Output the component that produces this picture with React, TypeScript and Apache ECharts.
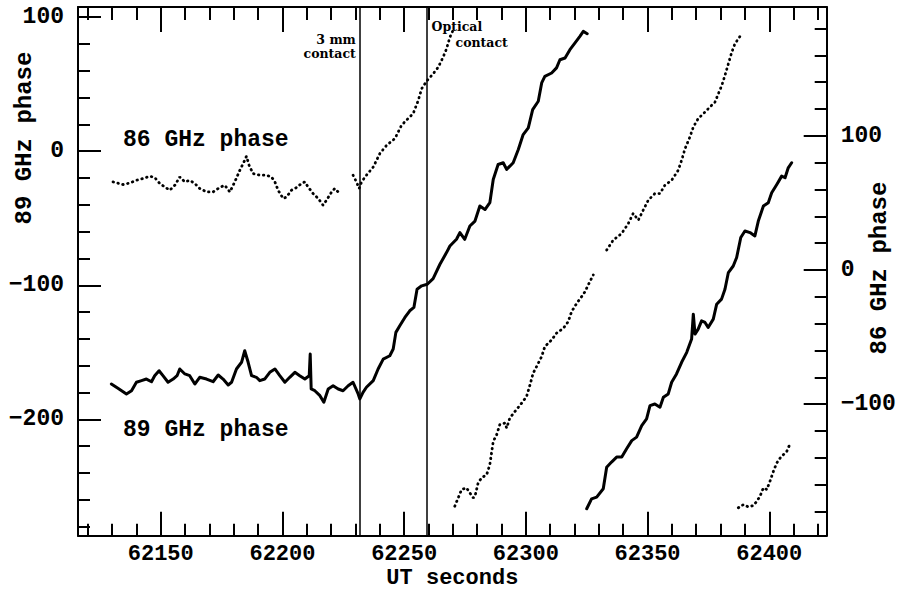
import React, { useEffect, useRef } from "react";
import * as echarts from "echarts";

// ---- axis extents & ticks ----
const X_MIN = 62116;
const X_MAX = 62423.6;
const L_MIN = -286.7;
const L_MAX = 107.5;
const R_MIN = -198.1;
const R_MAX = 196.1;

const xMajorTicks = [62150, 62200, 62250, 62300, 62350, 62400];
const xMinorTicks = [
  62120, 62130, 62140, 62160, 62170, 62180, 62190, 62210, 62220, 62230, 62240,
  62260, 62270, 62280, 62290, 62310, 62320, 62330, 62340, 62360, 62370, 62380,
  62390, 62410, 62420,
];
const leftMajorTicks = [-200, -100, 0, 100];
const leftMinorTicks = [
  -280, -260, -240, -220, -180, -160, -140, -120, -80, -60, -40, -20, 20, 40, 60, 80,
];
const rightMajorTicks = [-100, 0, 100];
const rightMinorTicks = [
  -180, -160, -140, -120, -80, -60, -40, -20, 20, 40, 60, 80, 120, 140, 160, 180,
];

// event times (UT seconds)
const contact3mm = 62231.8;
const contactOptical = 62259.2;

// ---- 89 GHz phase (left axis), two wraps ----
const phase89A = [
  [62129.7, -173.6], [62132.4, -176.8], [62135.9, -181.0], [62138.0, -178.6], [62140.0, -172.3],
  [62142.1, -171.1], [62144.1, -169.9], [62146.2, -171.9], [62147.5, -167.4], [62149.3, -163.7],
  [62150.9, -167.4], [62153.0, -172.3], [62155.1, -169.9], [62156.7, -167.4], [62157.8, -162.4],
  [62159.9, -166.1], [62161.9, -167.4], [62164.0, -173.6], [62166.0, -168.6], [62168.8, -169.9],
  [62171.5, -171.9], [62173.6, -166.9], [62175.6, -169.9], [62177.7, -174.3], [62179.1, -172.3],
  [62181.1, -162.4], [62183.2, -157.4], [62184.5, -148.8], [62185.9, -157.4], [62187.3, -167.4],
  [62189.3, -168.6], [62190.7, -171.1], [62192.7, -169.9], [62194.8, -164.9], [62196.9, -162.4],
  [62198.9, -167.4], [62201.0, -172.3], [62203.0, -168.6], [62205.1, -164.9], [62207.1, -167.4],
  [62209.2, -169.9], [62211.0, -167.4], [62211.4, -151.3], [62211.8, -177.3], [62213.3, -178.6],
  [62215.4, -182.3], [62217.0, -187.2], [62218.8, -177.3], [62220.8, -174.9], [62222.9, -177.3],
  [62224.9, -178.6], [62227.0, -174.9], [62229.0, -172.3], [62231.1, -181.0], [62231.8, -184.7],
  [62233.1, -179.8], [62234.5, -176.0], [62237.3, -171.1], [62239.3, -162.4], [62241.4, -155.0],
  [62244.1, -152.5], [62245.5, -147.5], [62246.6, -135.1], [62248.2, -130.2], [62250.3, -124.0],
  [62252.3, -119.0], [62254.0, -116.5], [62255.3, -102.9], [62257.2, -100.4], [62259.5, -99.2],
  [62261.9, -95.0], [62264.7, -84.3], [62267.4, -75.6], [62268.8, -70.7], [62271.5, -65.7],
  [62272.9, -60.7], [62274.9, -65.7], [62277.0, -55.8], [62279.1, -52.1], [62281.1, -40.9],
  [62283.2, -43.5], [62285.2, -38.4], [62286.6, -21.1], [62288.6, -9.9], [62290.7, -8.6],
  [62292.1, -13.6], [62294.8, -8.6], [62296.9, 1.3], [62298.9, 12.4], [62301.0, 17.4],
  [62302.8, 31.0], [62305.1, 37.2], [62306.5, 50.9], [62307.8, 55.8], [62310.6, 58.3],
  [62312.6, 62.1], [62314.0, 68.2], [62316.1, 69.5], [62318.1, 75.7], [62320.2, 80.7],
  [62322.2, 85.6], [62323.6, 89.3], [62325.2, 87.6],
];
const phase89B = [
  [62325.0, -266.6], [62327.0, -259.2], [62329.1, -257.9], [62331.8, -251.7], [62333.2, -235.6],
  [62335.2, -231.8], [62337.3, -228.1], [62339.4, -228.1], [62341.4, -221.9], [62343.5, -215.8],
  [62345.5, -213.2], [62347.6, -204.6], [62349.6, -199.6], [62351.0, -189.7], [62353.0, -188.5],
  [62355.1, -190.9], [62356.5, -183.5], [62358.5, -181.0], [62359.9, -172.3], [62361.9, -166.1],
  [62364.0, -157.4], [62366.1, -150.0], [62368.1, -140.1], [62368.8, -121.5], [62369.5, -136.4],
  [62370.8, -132.7], [62372.2, -126.5], [62373.6, -127.7], [62374.9, -131.4], [62377.0, -125.2],
  [62378.4, -114.1], [62380.4, -110.3], [62381.8, -102.9], [62383.2, -90.5], [62385.2, -85.6],
  [62386.6, -79.3], [62388.3, -64.4], [62390.0, -59.5], [62392.1, -60.7], [62394.1, -63.2],
  [62395.5, -52.1], [62397.6, -40.9], [62399.6, -38.4], [62401.0, -31.0], [62403.1, -24.8],
  [62405.1, -18.6], [62406.5, -19.8], [62407.8, -12.4], [62409.2, -8.6],
];

// ---- 86 GHz phase (right axis), segments ----
const phase86A = [
  [62130.4, 65.7], [62134.5, 63.7], [62137.3, 64.9], [62140.0, 66.9], [62142.7, 68.2],
  [62145.5, 69.9], [62147.5, 69.0], [62149.6, 64.5], [62151.6, 62.0], [62153.7, 59.5],
  [62155.8, 63.2], [62157.8, 69.4], [62159.9, 65.7], [62161.9, 66.9], [62164.0, 64.5],
  [62166.0, 60.8], [62168.8, 58.2], [62171.5, 58.2], [62174.2, 61.5], [62176.3, 63.2],
  [62178.4, 58.2], [62180.4, 65.7], [62182.5, 74.4], [62184.5, 81.8], [62185.2, 84.8],
  [62186.3, 78.1], [62187.9, 71.9], [62190.7, 70.7], [62193.4, 70.7], [62195.5, 69.4],
  [62196.9, 65.7], [62198.2, 59.5], [62200.3, 53.3], [62201.7, 54.5], [62203.7, 59.5],
  [62205.8, 61.5], [62207.8, 64.5], [62209.2, 65.7], [62210.5, 62.0], [62212.6, 57.0],
  [62214.7, 53.3], [62216.7, 48.3], [62218.1, 52.1], [62220.2, 58.2], [62221.5, 60.8],
  [62222.9, 58.2], [62224.3, 57.5],
];
const phase86B = [
  [62229.0, 70.7], [62230.4, 65.7], [62231.5, 60.8], [62232.5, 65.7], [62234.5, 70.7],
  [62237.3, 76.8], [62240.0, 86.8], [62242.8, 93.0], [62246.2, 98.0], [62248.9, 107.9],
  [62251.6, 112.9], [62253.7, 116.6], [62255.8, 126.5], [62257.2, 135.2], [62259.2, 140.8],
  [62261.9, 146.3], [62264.0, 151.2], [62266.0, 158.7], [62267.4, 164.9], [62268.8, 173.6],
  [62270.4, 180.0],
];
const phase86C = [
  [62270.8, -176.1], [62272.2, -169.9], [62273.6, -163.7], [62275.6, -162.4], [62277.0, -166.2],
  [62278.4, -169.9], [62279.1, -168.7], [62280.4, -158.7], [62281.8, -155.0], [62283.9, -152.6],
  [62285.2, -145.1], [62285.9, -136.4], [62286.6, -127.8], [62288.0, -122.8], [62289.3, -115.3],
  [62291.4, -114.1], [62292.1, -117.8], [62293.4, -110.4], [62295.5, -105.5], [62298.3, -99.2],
  [62300.3, -94.3], [62301.7, -85.6], [62303.0, -76.9], [62304.4, -72.0], [62306.5, -64.5],
  [62307.8, -57.1], [62310.6, -52.1], [62312.6, -47.1], [62315.4, -43.4], [62317.4, -38.5],
  [62318.8, -31.0], [62320.9, -24.8], [62322.9, -19.9], [62324.3, -16.2], [62325.6, -11.2],
  [62327.7, -3.7],
];
const phase86D = [
  [62333.2, 14.9], [62335.9, 22.3], [62339.4, 27.3], [62342.1, 34.7], [62344.1, 42.2],
  [62346.2, 37.2], [62348.2, 44.6], [62350.3, 52.1], [62353.0, 57.0], [62355.1, 57.0],
  [62357.1, 63.2], [62359.9, 66.9], [62362.6, 74.4], [62364.0, 81.8], [62365.4, 90.5],
  [62367.4, 99.2], [62368.8, 106.6], [62370.8, 112.9], [62373.6, 117.8], [62375.6, 121.5],
  [62377.7, 125.2], [62379.1, 131.5], [62380.5, 137.6], [62381.8, 145.1], [62383.2, 153.8],
  [62384.6, 162.4], [62385.9, 168.7], [62387.3, 172.4], [62388.7, 176.1],
];
const phase86E = [
  [62387.3, -177.3], [62389.4, -174.9], [62391.4, -176.6], [62393.5, -175.6], [62394.9, -172.4],
  [62396.2, -168.7], [62397.6, -162.4], [62399.0, -163.7], [62400.3, -157.5], [62401.7, -150.1],
  [62403.1, -143.8], [62404.5, -140.1], [62405.8, -137.7], [62407.2, -135.2], [62408.2, -131.0],
];

const MONO = "'Liberation Mono', 'DejaVu Sans Mono', monospace";
const SERIF = "'DejaVu Serif', 'Liberation Serif', serif";
const minusFmt = (v: number) => (v < 0 ? "\u2212" + Math.abs(v) : String(v));

function makeX(position: string, ticks: number[], len: number, withLabels: boolean, showLine: boolean) {
  return {
    type: "value",
    position,
    min: X_MIN,
    max: X_MAX,
    axisLine: { show: showLine, onZero: false, lineStyle: { color: "#000", width: 2 } },
    axisTick: { show: true, inside: true, length: len, customValues: ticks, lineStyle: { color: "#000", width: 2 } },
    axisLabel: withLabels
      ? { show: true, customValues: ticks, margin: 8, color: "#000", fontFamily: MONO, fontWeight: "bold", fontSize: 22, formatter: (v: number) => String(v) }
      : { show: false },
    splitLine: { show: false },
    minorTick: { show: false },
  };
}

function makeY(position: string, min: number, max: number, ticks: number[], len: number, withLabels: boolean, showLine: boolean) {
  return {
    type: "value",
    position,
    min,
    max,
    axisLine: { show: showLine, onZero: false, lineStyle: { color: "#000", width: 2 } },
    axisTick: { show: true, inside: true, length: len, customValues: ticks, lineStyle: { color: "#000", width: 2 } },
    axisLabel: withLabels
      ? { show: true, customValues: ticks, margin: 14, color: "#000", fontFamily: MONO, fontWeight: "bold", fontSize: 23, formatter: minusFmt }
      : { show: false },
    splitLine: { show: false },
    minorTick: { show: false },
  };
}

export default function App() {
  const ref = useRef<HTMLDivElement>(null);

  useEffect(() => {
    if (!ref.current) return;
    const chart = echarts.init(ref.current, undefined, { renderer: "svg" });

    const solid = (data: number[][], extra: any = {}) => ({
      type: "line",
      xAxisIndex: 0,
      yAxisIndex: 0,
      data,
      symbol: "none",
      lineStyle: { color: "#000", width: 3, join: "round", cap: "round" },
      silent: true,
      ...extra,
    });
    const dotted = (data: number[][]) => ({
      type: "line",
      xAxisIndex: 0,
      yAxisIndex: 2,
      data,
      symbol: "none",
      lineStyle: { color: "#000", width: 2.8, type: [0.5, 4.5], cap: "round" },
      silent: true,
    });

    chart.setOption({
      animation: false,
      backgroundColor: "#fff",
      grid: { left: 78, top: 7, right: 76.3, bottom: 54.3, containLabel: false, outerBoundsMode: "none" },
      xAxis: [
        makeX("bottom", xMajorTicks, 24, true, true),
        makeX("bottom", xMinorTicks, 12, false, false),
        makeX("top", xMajorTicks, 25, false, true),
        makeX("top", xMinorTicks, 13, false, false),
      ],
      yAxis: [
        makeY("left", L_MIN, L_MAX, leftMajorTicks, 23, true, true),
        makeY("left", L_MIN, L_MAX, leftMinorTicks, 12, false, false),
        makeY("right", R_MIN, R_MAX, rightMajorTicks, 23, true, true),
        makeY("right", R_MIN, R_MAX, rightMinorTicks, 12, false, false),
      ],
      series: [
        solid(phase89A, {
          markLine: {
            silent: true,
            symbol: ["none", "none"],
            label: { show: false },
            lineStyle: { color: "#000", width: 1.5, type: "solid" },
            data: [{ xAxis: contact3mm }, { xAxis: contactOptical }],
          },
        }),
        solid(phase89B),
        dotted(phase86A),
        dotted(phase86B),
        dotted(phase86C),
        dotted(phase86D),
        dotted(phase86E),
      ],
    });

    const x3 = chart.convertToPixel({ xAxisIndex: 0 }, contact3mm) as number;
    const xo = chart.convertToPixel({ xAxisIndex: 0 }, contactOptical) as number;
    const xMid = ((chart.convertToPixel({ xAxisIndex: 0 }, X_MIN) as number) + (chart.convertToPixel({ xAxisIndex: 0 }, X_MAX) as number)) / 2;
    const annot = { fill: "#000", fontFamily: SERIF, fontWeight: "bold", fontSize: 12.5 };
    const big = { fill: "#000", fontFamily: MONO, fontWeight: "bold", fontSize: 23 };

    chart.setOption({
      graphic: [
        { type: "text", x: x3 - 4, y: 39, silent: true, style: { ...annot, text: "3 mm", align: "right", verticalAlign: "middle" } },
        { type: "text", x: x3 - 4, y: 53, silent: true, style: { ...annot, text: "contact", align: "right", verticalAlign: "middle" } },
        { type: "text", x: xo + 5, y: 26, silent: true, style: { ...annot, text: "Optical", align: "left", verticalAlign: "middle" } },
        { type: "text", x: xo + 29, y: 42, silent: true, style: { ...annot, text: "contact", align: "left", verticalAlign: "middle" } },
        { type: "text", x: 123, y: 140, silent: true, style: { ...big, text: "86 GHz phase", align: "left", verticalAlign: "middle" } },
        { type: "text", x: 123, y: 430, silent: true, style: { ...big, text: "89 GHz phase", align: "left", verticalAlign: "middle" } },
        { type: "text", x: xMid, y: 578.5, silent: true, style: { ...big, fontSize: 22, lineHeight: 20, text: "UT seconds", align: "center", verticalAlign: "middle" } },
        { type: "text", x: 24, y: 138, rotation: Math.PI / 2, silent: true, style: { ...big, fontSize: 24, text: "89 GHz phase", align: "center", verticalAlign: "middle" } },
        { type: "text", x: 879, y: 268, rotation: Math.PI / 2, silent: true, style: { ...big, fontSize: 24, text: "86 GHz phase", align: "center", verticalAlign: "middle" } },
      ],
    });

    return () => chart.dispose();
  }, []);

  return (
    <div
      ref={ref}
      style={{ position: "fixed", left: 0, top: 0, width: 903, height: 590, background: "#fff" }}
    />
  );
}
